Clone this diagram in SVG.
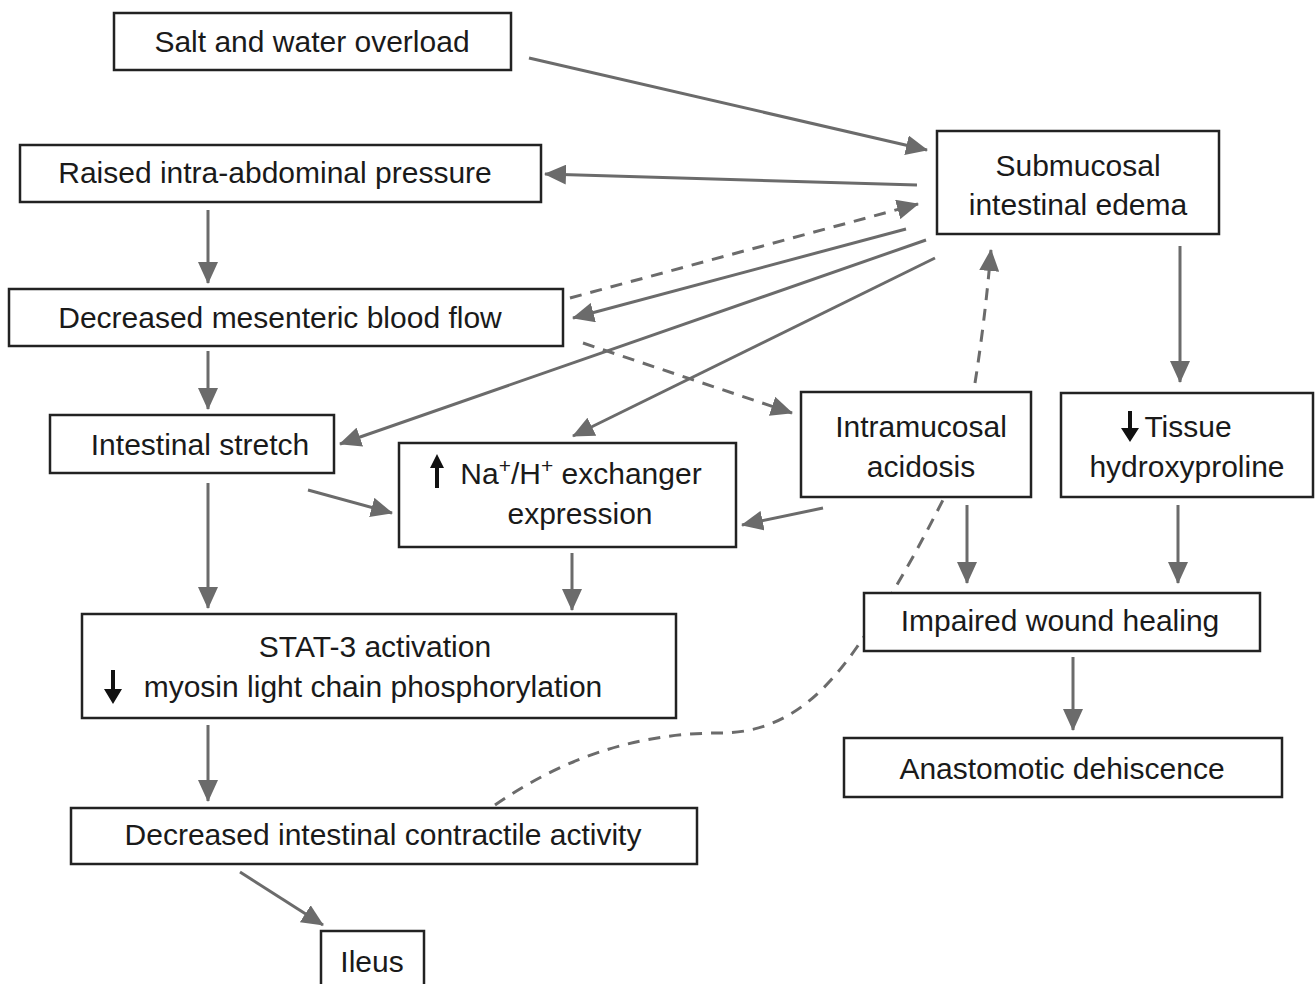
<svg xmlns="http://www.w3.org/2000/svg" width="1315" height="984" viewBox="0 0 1315 984">
<style>
.box{fill:#fff;stroke:#222;stroke-width:2.5}
.t{font-family:"Liberation Sans",Arial,sans-serif;font-size:30px;fill:#1a1a1a;text-anchor:middle}
.c{fill:none;stroke:#6b6b6b;stroke-width:3}
.d{fill:none;stroke:#6b6b6b;stroke-width:3;stroke-dasharray:12 9}
.sym{fill:#111;stroke:none}
</style>
<defs>
<marker id="ah" viewBox="0 0 22 20" refX="21" refY="10" markerWidth="22" markerHeight="20" markerUnits="userSpaceOnUse" orient="auto">
<path d="M0,0 L22,10 L0,20 z" fill="#6b6b6b"/>
</marker>
</defs>
<rect width="1315" height="984" fill="#fff"/>
<g id="connectors">
<path class="d" d="M495,805 C575,750 650,733 720,733 C780,733 820,700 857,647 S920,545 944,498"/>
<line class="c" x1="529" y1="58" x2="927" y2="150" marker-end="url(#ah)"/>
<line class="c" x1="917" y1="185" x2="545" y2="174" marker-end="url(#ah)"/>
<line class="c" x1="208" y1="210" x2="208" y2="283" marker-end="url(#ah)"/>
<line class="d" x1="570" y1="298" x2="918" y2="204" marker-end="url(#ah)"/>
<line class="c" x1="906" y1="229" x2="573" y2="318" marker-end="url(#ah)"/>
<line class="c" x1="926" y1="240" x2="340" y2="444" marker-end="url(#ah)"/>
<line class="c" x1="935" y1="258" x2="573" y2="436" marker-end="url(#ah)"/>
<line class="d" x1="583" y1="343" x2="792" y2="413" marker-end="url(#ah)"/>
<path class="d" d="M975,383 Q985,320 991,250" marker-end="url(#ah)"/>
<line class="c" x1="1180" y1="246" x2="1180" y2="382" marker-end="url(#ah)"/>
<line class="c" x1="208" y1="351" x2="208" y2="409" marker-end="url(#ah)"/>
<line class="c" x1="308" y1="490" x2="392" y2="513" marker-end="url(#ah)"/>
<line class="c" x1="823" y1="508" x2="742" y2="525" marker-end="url(#ah)"/>
<line class="c" x1="208" y1="483" x2="208" y2="608" marker-end="url(#ah)"/>
<line class="c" x1="572" y1="553" x2="572" y2="610" marker-end="url(#ah)"/>
<line class="c" x1="967" y1="505" x2="967" y2="583" marker-end="url(#ah)"/>
<line class="c" x1="1178" y1="505" x2="1178" y2="583" marker-end="url(#ah)"/>
<line class="c" x1="1073" y1="657" x2="1073" y2="730" marker-end="url(#ah)"/>
<line class="c" x1="208" y1="725" x2="208" y2="801" marker-end="url(#ah)"/>
<line class="c" x1="240" y1="872" x2="323" y2="925" marker-end="url(#ah)"/>
</g>
<g id="salt"><rect class="box" x="114" y="13" width="397" height="57"/><text class="t" x="312" y="52">Salt and water overload</text></g>
<g id="raised"><rect class="box" x="20" y="145" width="521" height="57"/><text class="t" x="275" y="183">Raised intra-abdominal pressure</text></g>
<g id="submucosal"><rect class="box" x="937" y="131" width="282" height="103"/><text class="t" x="1078" y="176">Submucosal</text><text class="t" x="1078" y="215">intestinal edema</text></g>
<g id="mesenteric"><rect class="box" x="9" y="289" width="554" height="57"/><text class="t" x="280" y="328">Decreased mesenteric blood flow</text></g>
<g id="stretch"><rect class="box" x="50" y="415" width="284" height="58"/><text class="t" x="200" y="455">Intestinal stretch</text></g>
<g id="exchanger"><rect class="box" x="399" y="443" width="337" height="104"/>
<path class="sym" d="M435,488 L435,468 L430,468 L437,454 L444,468 L439,468 L439,488 z"/>
<text class="t" x="581" y="484">Na<tspan dy="-11" font-size="21">+</tspan><tspan dy="11">/H</tspan><tspan dy="-11" font-size="21">+</tspan><tspan dy="11"> exchanger</tspan></text>
<text class="t" x="580" y="524">expression</text></g>
<g id="acidosis"><rect class="box" x="801" y="392" width="230" height="105"/><text class="t" x="921" y="437">Intramucosal</text><text class="t" x="921" y="477">acidosis</text></g>
<g id="hydroxyproline"><rect class="box" x="1061" y="393" width="252" height="104"/>
<path class="sym" d="M1128,411 L1128,428 L1121,428 L1130,442 L1139,428 L1132,428 L1132,411 z"/>
<text class="t" x="1188" y="437">Tissue</text><text class="t" x="1187" y="477">hydroxyproline</text></g>
<g id="wound"><rect class="box" x="864" y="593" width="396" height="58"/><text class="t" x="1060" y="631">Impaired wound healing</text></g>
<g id="stat3"><rect class="box" x="82" y="614" width="594" height="104"/>
<text class="t" x="375" y="657">STAT-3 activation</text>
<path class="sym" d="M111,670 L111,689 L104,689 L113,704 L122,689 L115,689 L115,670 z"/>
<text class="t" x="373" y="697">myosin light chain phosphorylation</text></g>
<g id="dehiscence"><rect class="box" x="844" y="738" width="438" height="59"/><text class="t" x="1062" y="779">Anastomotic dehiscence</text></g>
<g id="contractile"><rect class="box" x="71" y="808" width="626" height="56"/><text class="t" x="383" y="845">Decreased intestinal contractile activity</text></g>
<g id="ileus"><rect class="box" x="321" y="931" width="103" height="60"/><text class="t" x="372" y="972">Ileus</text></g>
</svg>
